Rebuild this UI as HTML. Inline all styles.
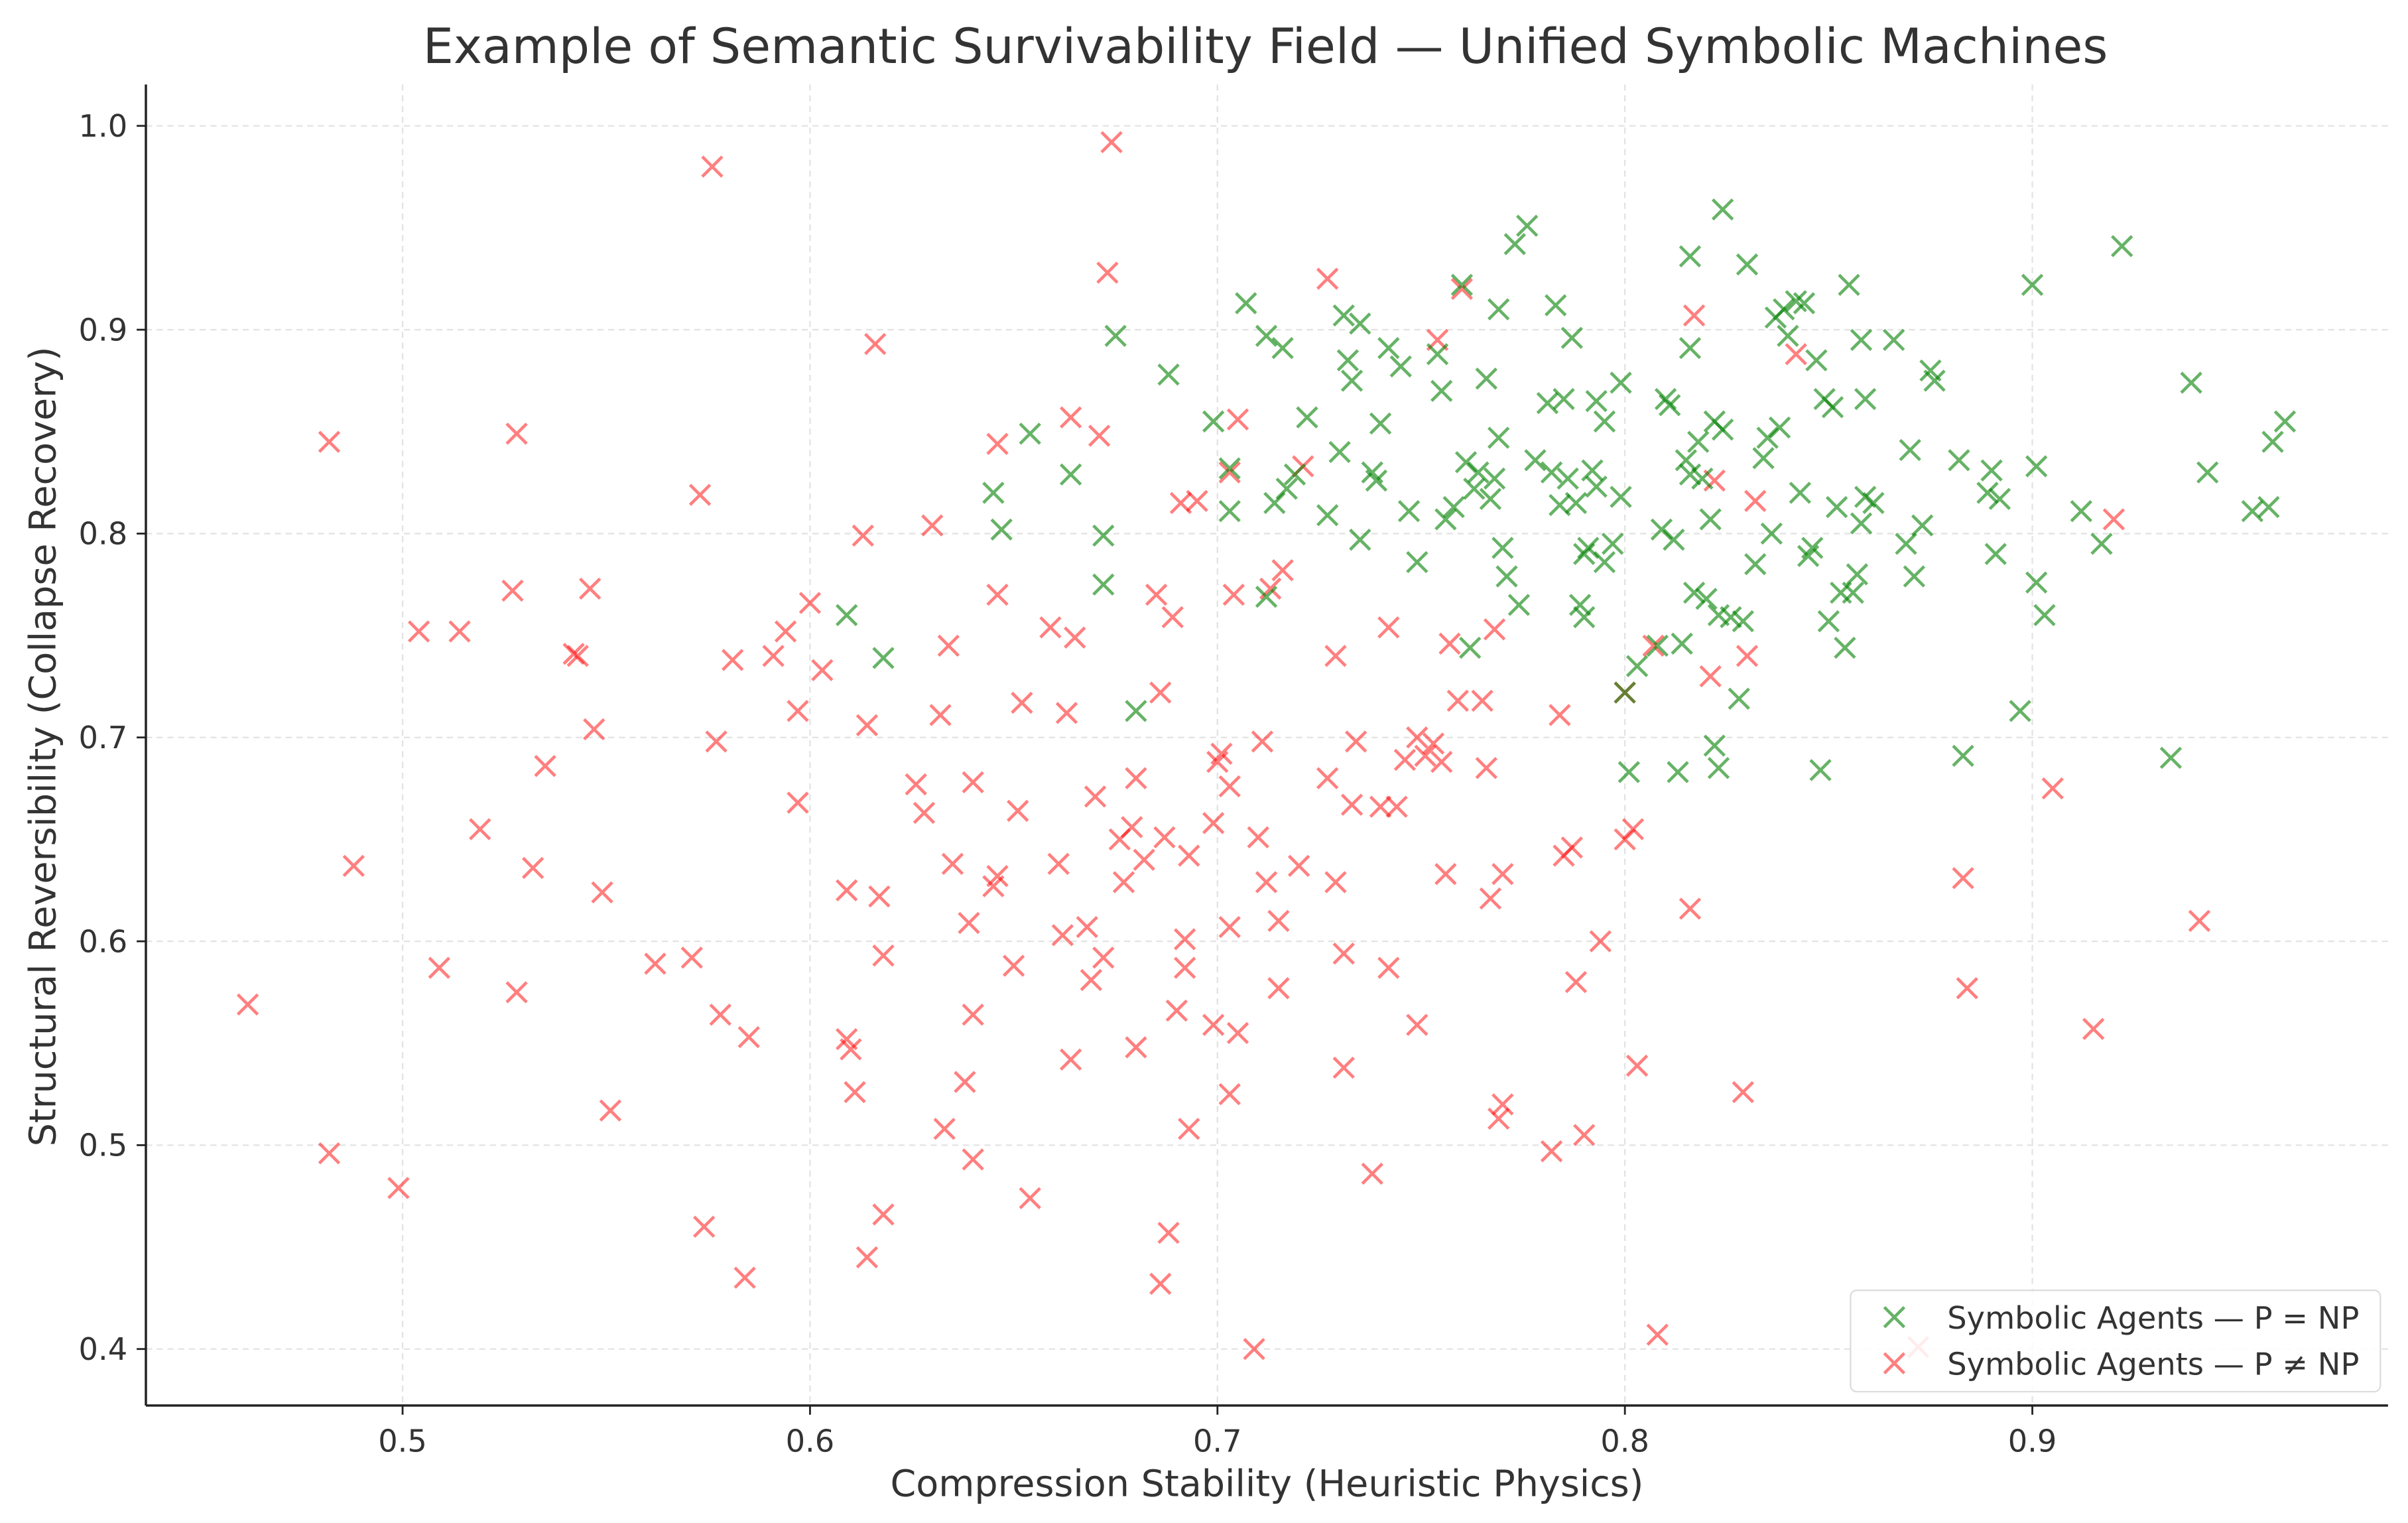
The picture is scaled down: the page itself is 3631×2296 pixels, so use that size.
<!DOCTYPE html>
<html><head><meta charset="utf-8"><style>
html,body{margin:0;padding:0;background:#fff;}
svg{display:block;font-family:"DejaVu Sans","Liberation Sans",sans-serif;}
</style></head><body>
<svg id="chart" width="3631" height="2296" viewBox="0 0 1568 991.5" xmlns="http://www.w3.org/2000/svg">
<rect width="1568" height="991.5" fill="#fff"/>
<text x="824" y="41" text-anchor="middle" font-size="31.5" fill="#333">Example of Semantic Survivability Field — Unified Symbolic Machines</text>
<g id="grid"></g>
<g id="ticks"></g>
<g id="marks"></g>
<line x1="95" y1="55" x2="95" y2="915" stroke="#222" stroke-width="1.5"/>
<line x1="95" y1="915" x2="1555" y2="915" stroke="#222" stroke-width="1.5"/>
<text x="825" y="974" text-anchor="middle" font-size="24" fill="#333">Compression Stability (Heuristic Physics)</text>
<text transform="translate(36,486) rotate(-90)" text-anchor="middle" font-size="24" fill="#333">Structural Reversibility (Collapse Recovery)</text>
<g>
<rect x="1205" y="840" width="345" height="66" rx="4" fill="#fff" fill-opacity="0.85" stroke="#ddd"/>
<g>
<path d="M1227,851 l13,13 M1240,851 l-13,13" stroke="green" stroke-opacity="0.6" stroke-width="2"/>
<text x="1268" y="865" font-size="20" fill="#333">Symbolic Agents — P = NP</text></g>
<g>
<path d="M1227,881 l13,13 M1240,881 l-13,13" stroke="red" stroke-opacity="0.5" stroke-width="2"/>
<text x="1268" y="895" font-size="20" fill="#333">Symbolic Agents — P ≠ NP</text></g>
</g>
</svg>
<script>
const xTicks=[0.5,0.6,0.7,0.8,0.9];
const yTicks=[0.4,0.5,0.6,0.7,0.8,0.9,1.0];
const xTickLabels=["0.5","0.6","0.7","0.8","0.9"];
const yTickLabels=["0.4","0.5","0.6","0.7","0.8","0.9","1.0"];
const greenX=[0.609,0.618,0.645,0.647,0.654,0.664,0.672,0.672,0.675,0.688,0.680,0.699,0.703,0.703,0.707,0.712,0.714,0.716,0.717,0.719,0.722,0.712,0.727,0.730,0.731,0.732,0.733,0.735,0.735,0.738,0.739,0.740,0.742,0.745,0.747,0.749,0.754,0.755,0.756,0.758,0.760,0.761,0.762,0.763,0.764,0.766,0.767,0.768,0.769,0.769,0.770,0.771,0.773,0.774,0.776,0.778,0.781,0.782,0.783,0.784,0.785,0.786,0.787,0.788,0.789,0.790,0.790,0.791,0.792,0.793,0.793,0.795,0.795,0.797,0.799,0.799,0.800,0.801,0.803,0.808,0.809,0.810,0.811,0.812,0.813,0.814,0.815,0.816,0.816,0.816,0.817,0.818,0.819,0.820,0.821,0.822,0.822,0.823,0.823,0.824,0.824,0.826,0.828,0.829,0.830,0.832,0.834,0.835,0.836,0.837,0.838,0.839,0.840,0.842,0.843,0.844,0.845,0.846,0.847,0.848,0.849,0.850,0.851,0.852,0.853,0.854,0.855,0.856,0.857,0.858,0.858,0.859,0.859,0.861,0.866,0.869,0.870,0.871,0.873,0.875,0.876,0.882,0.883,0.889,0.890,0.891,0.892,0.897,0.900,0.901,0.901,0.903,0.912,0.917,0.922,0.934,0.939,0.943,0.954,0.958,0.959,0.962];
const greenY=[0.760,0.739,0.820,0.802,0.849,0.829,0.799,0.775,0.897,0.878,0.713,0.855,0.832,0.811,0.913,0.897,0.815,0.891,0.822,0.829,0.857,0.769,0.809,0.840,0.907,0.885,0.875,0.797,0.903,0.830,0.826,0.854,0.891,0.882,0.811,0.786,0.888,0.870,0.807,0.813,0.922,0.835,0.744,0.822,0.830,0.876,0.817,0.827,0.910,0.847,0.793,0.779,0.942,0.765,0.951,0.836,0.864,0.830,0.912,0.814,0.866,0.827,0.896,0.815,0.765,0.790,0.759,0.793,0.831,0.865,0.823,0.855,0.786,0.795,0.874,0.818,0.722,0.683,0.735,0.745,0.802,0.866,0.863,0.797,0.683,0.746,0.836,0.936,0.891,0.829,0.771,0.845,0.827,0.768,0.807,0.855,0.696,0.760,0.685,0.959,0.851,0.759,0.719,0.757,0.932,0.785,0.837,0.847,0.800,0.906,0.852,0.910,0.897,0.914,0.820,0.913,0.789,0.793,0.885,0.684,0.866,0.757,0.862,0.813,0.771,0.744,0.922,0.771,0.780,0.895,0.805,0.866,0.818,0.815,0.895,0.795,0.841,0.779,0.804,0.880,0.875,0.836,0.691,0.820,0.831,0.790,0.817,0.713,0.922,0.776,0.833,0.760,0.811,0.795,0.941,0.690,0.874,0.830,0.811,0.813,0.845,0.855];
const redX=[0.462,0.482,0.482,0.488,0.499,0.504,0.509,0.514,0.519,0.527,0.528,0.528,0.532,0.535,0.542,0.543,0.546,0.547,0.549,0.551,0.562,0.571,0.573,0.574,0.576,0.577,0.578,0.581,0.584,0.585,0.591,0.594,0.597,0.597,0.600,0.603,0.609,0.609,0.610,0.611,0.613,0.614,0.614,0.616,0.617,0.618,0.618,0.626,0.628,0.630,0.632,0.633,0.634,0.635,0.638,0.639,0.640,0.640,0.640,0.645,0.646,0.646,0.646,0.650,0.651,0.652,0.654,0.659,0.661,0.662,0.663,0.664,0.664,0.665,0.668,0.669,0.670,0.671,0.672,0.673,0.674,0.676,0.677,0.679,0.680,0.680,0.682,0.685,0.686,0.686,0.687,0.688,0.689,0.690,0.691,0.692,0.692,0.693,0.693,0.695,0.699,0.699,0.700,0.701,0.703,0.703,0.703,0.703,0.704,0.705,0.705,0.709,0.710,0.711,0.712,0.713,0.715,0.715,0.716,0.720,0.721,0.727,0.727,0.729,0.729,0.731,0.731,0.733,0.734,0.738,0.740,0.742,0.742,0.744,0.746,0.749,0.749,0.751,0.753,0.754,0.755,0.756,0.757,0.759,0.760,0.765,0.766,0.767,0.768,0.769,0.770,0.770,0.782,0.784,0.785,0.787,0.788,0.790,0.794,0.800,0.800,0.802,0.803,0.807,0.808,0.816,0.817,0.821,0.822,0.829,0.830,0.832,0.842,0.872,0.883,0.884,0.905,0.915,0.920,0.941];
const redY=[0.569,0.845,0.496,0.637,0.479,0.752,0.587,0.752,0.655,0.772,0.575,0.849,0.636,0.686,0.741,0.740,0.773,0.704,0.624,0.517,0.589,0.592,0.819,0.460,0.980,0.698,0.564,0.738,0.435,0.553,0.740,0.752,0.668,0.713,0.766,0.733,0.552,0.625,0.547,0.526,0.799,0.445,0.706,0.893,0.622,0.593,0.466,0.677,0.663,0.804,0.711,0.508,0.745,0.638,0.531,0.609,0.493,0.678,0.564,0.627,0.632,0.844,0.770,0.588,0.664,0.717,0.474,0.754,0.638,0.603,0.712,0.857,0.542,0.749,0.607,0.581,0.671,0.848,0.592,0.928,0.992,0.650,0.629,0.656,0.548,0.680,0.640,0.770,0.722,0.432,0.651,0.457,0.759,0.566,0.815,0.601,0.587,0.642,0.508,0.816,0.658,0.559,0.688,0.692,0.830,0.607,0.676,0.525,0.770,0.856,0.555,0.400,0.651,0.698,0.629,0.773,0.610,0.577,0.782,0.637,0.833,0.925,0.680,0.629,0.740,0.538,0.594,0.667,0.698,0.486,0.666,0.754,0.587,0.666,0.689,0.559,0.700,0.691,0.697,0.895,0.688,0.633,0.746,0.718,0.920,0.718,0.685,0.621,0.753,0.513,0.520,0.633,0.497,0.711,0.642,0.646,0.580,0.505,0.600,0.722,0.650,0.655,0.539,0.745,0.407,0.616,0.907,0.730,0.826,0.526,0.740,0.816,0.888,0.401,0.631,0.577,0.675,0.557,0.807,0.610];

const NS="http://www.w3.org/2000/svg";
const X0=95,X1=1555,Y0=915,Y1=55;
const xMin=0.4370,xMax=0.9873,yMin=0.3723,yMax=1.0203;
function sx(v){return X0+(v-xMin)/(xMax-xMin)*(X1-X0);}
function sy(v){return Y0-(v-yMin)/(yMax-yMin)*(Y0-Y1);}
const grid=document.getElementById('grid'),ticks=document.getElementById('ticks'),marks=document.getElementById('marks');
function mk(tag,attrs,parent){const e=document.createElementNS(NS,tag);for(const k in attrs)e.setAttribute(k,attrs[k]);parent.appendChild(e);return e;}
xTicks.forEach((t,i)=>{
  const x=sx(t);
  const g=mk('line',{x1:x,y1:Y1,x2:x,y2:Y0,stroke:'#e3e3e3','stroke-dasharray':'4,3','stroke-width':1},grid);
  
  
  const tk=mk('line',{x1:x,y1:Y0,x2:x,y2:Y0+6,stroke:'#222','stroke-width':1.2},ticks);
  
  
  const tx=mk('text',{x:x,y:Y0+30,'text-anchor':'middle','font-size':20,fill:'#333'},ticks);
  tx.textContent=xTickLabels[i];
  
  
});
yTicks.forEach((t,i)=>{
  const y=sy(t);
  const g=mk('line',{x1:X0,y1:y,x2:X1,y2:y,stroke:'#e3e3e3','stroke-dasharray':'4,3','stroke-width':1},grid);
  
  
  const tk=mk('line',{x1:X0-6,y1:y,x2:X0,y2:y,stroke:'#222','stroke-width':1.2},ticks);
  
  
  const tx=mk('text',{x:X0-12,y:y+7,'text-anchor':'end','font-size':20,fill:'#333'},ticks);
  tx.textContent=yTickLabels[i];
  
  
});
function drawSeries(xs,ys,color,op,name){
  for(let i=0;i<xs.length;i++){
    const cx=sx(xs[i]),cy=sy(ys[i]),r=6.5;
    const p=mk('path',{d:`M${cx-r},${cy-r}L${cx+r},${cy+r}M${cx+r},${cy-r}L${cx-r},${cy+r}`,stroke:color,'stroke-opacity':op,'stroke-width':2,fill:'none'},marks);
    
    
  }
}
drawSeries(redX,redY,'red',0.5,'point-p-neq-np');
drawSeries(greenX,greenY,'green',0.6,'point-p-eq-np');
</script>
</body></html>
